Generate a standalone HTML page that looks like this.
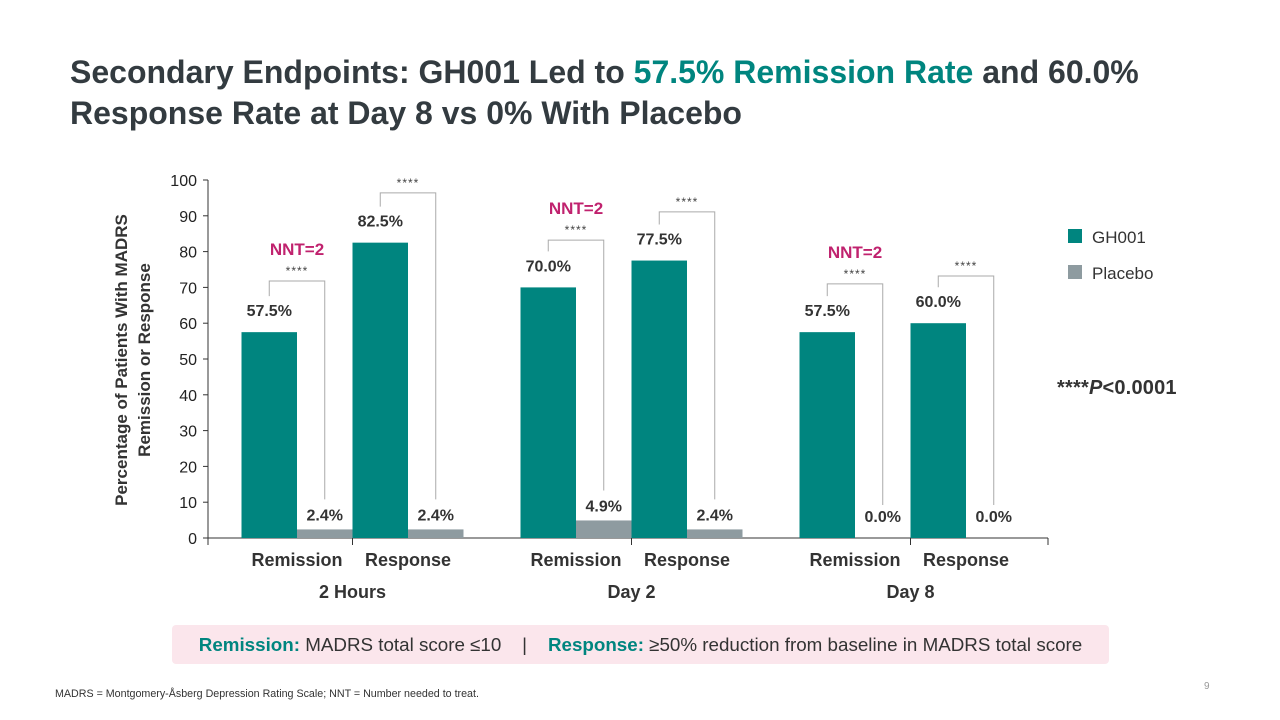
<!DOCTYPE html>
<html><head><meta charset="utf-8"><style>
body{margin:0;width:1280px;height:720px;background:#fff;font-family:"Liberation Sans",sans-serif;overflow:hidden;position:relative}
.t{position:absolute}
</style></head><body>
<div class="t" style="left:70px;top:52px;font-size:32px;font-weight:bold;color:#333b40;line-height:41px;letter-spacing:0px">Secondary Endpoints: GH001 Led to <span style="color:#00857f">57.5% Remission Rate</span> and 60.0%<br>Response Rate at Day 8 vs 0% With Placebo</div>
<svg id="chart" width="1280" height="720" style="position:absolute;left:0;top:0" font-family="Liberation Sans, sans-serif"></svg>
<div class="t" style="left:172px;top:625px;width:937px;height:39px;background:#fbe6ec;border-radius:4px;font-size:18.8px;line-height:39px;text-align:center;color:#333;white-space:nowrap"><b style="color:#00857f">Remission:</b> MADRS total score ≤10 &nbsp;&nbsp; | &nbsp;&nbsp; <b style="color:#00857f">Response:</b> ≥50% reduction from baseline in MADRS total score</div>
<div class="t" style="left:55px;top:688px;font-size:10.7px;color:#333">MADRS = Montgomery-Åsberg Depression Rating Scale; NNT = Number needed to treat.</div>
<div class="t" style="left:1204px;top:681px;font-size:10px;color:#999">9</div>
<script>
const groups=["2 Hours","Day 2","Day 8"];
const subcats=["Remission","Response"];
const gh001=[57.5,82.5,70.0,77.5,57.5,60.0];
const placebo=[2.4,2.4,4.9,2.4,0.0,0.0];
const bracketTops=[71.8,96.4,83.2,91.1,71.0,73.2];
const nntLabels=["NNT=2","","NNT=2","","NNT=2",""];
const yTicks=[0,10,20,30,40,50,60,70,80,90,100];
const svg=document.getElementById('chart');const NS="http://www.w3.org/2000/svg";
function y(v){return 538-v*3.58;}
function gx(g){return 352.5+g*279;}
const bw=55.5;
function mk(tag,a,txt){const e=document.createElementNS(NS,tag);for(const k in a)e.setAttribute(k,a[k]);if(txt!==undefined)e.textContent=txt;svg.appendChild(e);return e;}
let e;
e=mk('line',{x1:208,y1:180,x2:208,y2:538,stroke:'#333','stroke-width':1});

e=mk('line',{x1:208,y1:538,x2:1048,y2:538,stroke:'#333','stroke-width':1});

yTicks.forEach(v=>{
 e=mk('line',{x1:203,y1:y(v),x2:208,y2:y(v),stroke:'#333'});
 
 e=mk('text',{x:197,y:y(v)+6,'text-anchor':'end','font-size':16,fill:'#222'},v);
 
});
[208,1048].concat(groups.map((g,i)=>gx(i))).forEach(x=>{
 e=mk('line',{x1:x,y1:538,x2:x,y2:545,stroke:'#333'});
 
});
e=mk('text',{transform:'translate(127,360) rotate(-90)','text-anchor':'middle','font-size':17,'font-weight':'bold',fill:'#333'},'Percentage of Patients With MADRS');

e=mk('text',{transform:'translate(150,360) rotate(-90)','text-anchor':'middle','font-size':17,'font-weight':'bold',fill:'#333'},'Remission or Response');

groups.forEach((g,gi)=>{
 e=mk('text',{x:gx(gi),y:598,'text-anchor':'middle','font-size':18,'font-weight':'bold',fill:'#333'},g);
 
 subcats.forEach((s,si)=>{
  const i=gi*2+si;const cx=gx(gi)+(si===0?-55.5:55.5);
  e=mk('text',{x:cx,y:566,'text-anchor':'middle','font-size':18,'font-weight':'bold',fill:'#333'},s);
  
  const x1=cx-bw,x2=cx;
  e=mk('rect',{x:x1,y:y(gh001[i]),width:bw,height:538-y(gh001[i]),fill:'#00857f'});
  
  e=mk('rect',{x:x2,y:y(placebo[i]),width:bw,height:538-y(placebo[i]),fill:'#8e9ba0'});
  
  e=mk('text',{x:x1+bw/2,y:y(gh001[i])-16,'text-anchor':'middle','font-size':16,'font-weight':'bold',fill:'#333'},gh001[i].toFixed(1)+'%');
  
  const py=Math.min(y(placebo[i])-9,522);
  e=mk('text',{x:x2+bw/2,y:py,'text-anchor':'middle','font-size':16,'font-weight':'bold',fill:'#333'},placebo[i].toFixed(1)+'%');
  
  const lx=x1+bw/2,rx=x2+bw/2,ty=y(bracketTops[i]);
  e=mk('polyline',{points:`${lx},${y(gh001[i])-36} ${lx},${ty} ${rx},${ty} ${rx},${Math.min(y(placebo[i])-30,505)}`,fill:'none',stroke:'#aaa','stroke-width':1});
  
  e=mk('text',{x:(lx+rx)/2,y:ty-6,'text-anchor':'middle','font-size':12,fill:'#444','letter-spacing':1},'****');
  
  if(nntLabels[i]){
   e=mk('text',{x:(lx+rx)/2,y:ty-26,'text-anchor':'middle','font-size':17,'font-weight':'bold',fill:'#c0226e'},nntLabels[i]);
   
  }
 });
});
e=mk('rect',{x:1068,y:229,width:14,height:14,fill:'#00857f'});

e=mk('text',{x:1092,y:243,'font-size':17,fill:'#333'},'GH001');

e=mk('rect',{x:1068,y:265,width:14,height:14,fill:'#8e9ba0'});

e=mk('text',{x:1092,y:279,'font-size':17,fill:'#333'},'Placebo');

e=mk('text',{x:1057,y:394,'font-size':20,'font-weight':'bold',fill:'#333','letter-spacing':0.2});

e.innerHTML='****<tspan font-style="italic">P</tspan>&lt;0.0001';
</script>
</body></html>
